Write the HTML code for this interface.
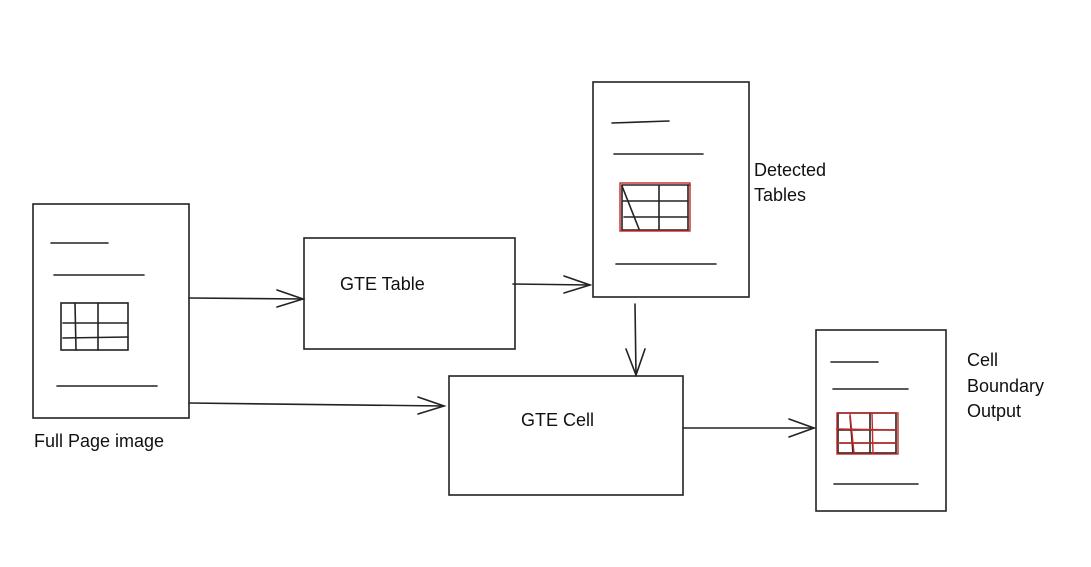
<!DOCTYPE html>
<html><head><meta charset="utf-8"><style>
html,body{margin:0;padding:0;background:#fff;}
svg{display:block}
text{font-family:"Liberation Sans",sans-serif;font-size:18px;fill:#111}
</style></head><body>
<svg width="1091" height="567" viewBox="0 0 1091 567" xmlns="http://www.w3.org/2000/svg">
<g fill="none" stroke="#222" stroke-width="1.6" stroke-linecap="round">
<!-- Full page -->
<rect x="33" y="204" width="156" height="214"/>
<line x1="51" y1="243" x2="108" y2="243"/>
<line x1="54" y1="275" x2="144" y2="275"/>
<line x1="57" y1="386" x2="157" y2="386"/>
<rect x="61" y="303" width="67" height="47"/>
<line x1="75" y1="303" x2="76" y2="350"/>
<line x1="98" y1="303" x2="98" y2="350"/>
<line x1="63" y1="323" x2="128" y2="323"/>
<line x1="63" y1="338" x2="128" y2="337"/>
<!-- GTE Table box -->
<rect x="304" y="238" width="211" height="111"/>
<!-- GTE Cell box -->
<rect x="449" y="376" width="234" height="119"/>
<!-- Detected tables page -->
<rect x="593" y="82" width="156" height="215"/>
<line x1="612" y1="123" x2="669" y2="121"/>
<line x1="614" y1="154" x2="703" y2="154"/>
<line x1="616" y1="264" x2="716" y2="264"/>
<line x1="622" y1="185" x2="690" y2="185"/>
<line x1="622" y1="230" x2="688" y2="230"/>
<line x1="622" y1="185" x2="622" y2="230"/>
<line x1="688" y1="185" x2="688" y2="230"/>
<line x1="623" y1="201" x2="688" y2="201"/>
<line x1="624" y1="217" x2="688" y2="217"/>
<line x1="622" y1="186" x2="639" y2="229"/>
<line x1="659" y1="186" x2="659" y2="229"/>
<!-- Output page -->
<rect x="816" y="330" width="130" height="181"/>
<line x1="831" y1="362" x2="878" y2="362"/>
<line x1="833" y1="389" x2="908" y2="389"/>
<line x1="834" y1="484" x2="918" y2="484"/>
<rect x="838" y="413" width="58" height="40"/>
<line x1="850" y1="416" x2="853" y2="453"/>
<line x1="870" y1="413" x2="870" y2="453"/>
<line x1="838" y1="430" x2="896" y2="430"/>
<line x1="840" y1="443" x2="896" y2="443"/>
<!-- Arrows -->
<line x1="189" y1="298" x2="303" y2="299"/>
<polyline points="277,290 303,299 277,307"/>
<line x1="189" y1="403" x2="444" y2="406"/>
<polyline points="418,397 444,406 418,414"/>
<line x1="513" y1="284" x2="590" y2="285"/>
<polyline points="564,276 590,285 564,293"/>
<line x1="635" y1="304" x2="636" y2="375"/>
<polyline points="626,349 636,375 645,349"/>
<line x1="683" y1="428" x2="814" y2="428"/>
<polyline points="789,419 814,428 789,437"/>
</g>
<g fill="none" stroke="#c62828" stroke-width="1.4">
<rect x="620" y="183" width="70" height="48"/>
<rect x="837" y="413" width="61" height="41"/>
<line x1="850" y1="414" x2="854" y2="453"/>
<line x1="872" y1="413" x2="873" y2="454"/>
<line x1="836" y1="429" x2="897" y2="430"/>
<line x1="838" y1="443" x2="897" y2="443"/>
</g>
<text x="34" y="447">Full Page image</text>
<text x="340" y="290">GTE Table</text>
<text x="521" y="426">GTE Cell</text>
<text x="754" y="176">Detected</text>
<text x="754" y="201">Tables</text>
<text x="967" y="366">Cell</text>
<text x="967" y="392">Boundary</text>
<text x="967" y="417">Output</text>
</svg>
</body></html>
